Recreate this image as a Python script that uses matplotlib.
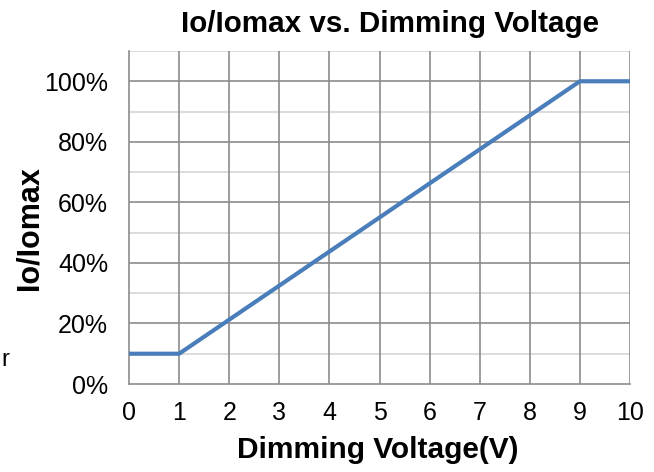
import matplotlib
matplotlib.use("Agg")
import matplotlib.pyplot as plt
from matplotlib.ticker import MultipleLocator, FuncFormatter

plt.rcParams['font.family'] = ['Liberation Sans', 'DejaVu Sans']

# Data
voltage = [0, 1, 9, 10]
ratio_pct = [10, 10, 100, 100]
x_ticks = list(range(0, 11))
y_ticks = [0, 20, 40, 60, 80, 100]
title = "Io/Iomax vs. Dimming Voltage"
xlabel = "Dimming Voltage(V)"
ylabel = "Io/Iomax"

W, H = 654, 472
fig = plt.figure(figsize=(W / 100, H / 100), dpi=100)
ax = fig.add_axes([129 / W, 1 - 384 / H, (630 - 129) / W, (384 - 51) / H])

major_c = '#8c8c8c'
minor_c = '#d6d6d6'

ax.set_xlim(0, 10)
ax.set_ylim(0, 110)
ax.set_xticks(x_ticks)
ax.set_yticks(y_ticks)
ax.yaxis.set_minor_locator(MultipleLocator(10))
ax.yaxis.set_major_formatter(FuncFormatter(lambda v, p: f"{int(v)}%"))

# grid
for yv in range(10, 111, 10):
    c = major_c if yv % 20 == 0 and yv <= 100 else minor_c
    ax.axhline(yv, color=c, lw=1.2, zorder=1)
for xv in x_ticks[1:]:
    ax.axvline(xv, color=major_c, lw=1.2, zorder=1)

for s in ['top', 'right']:
    ax.spines[s].set_visible(False)
for s in ['left', 'bottom']:
    ax.spines[s].set_color(major_c)
    ax.spines[s].set_linewidth(1.2)

ax.tick_params(axis='both', which='both', length=0, labelsize=18, colors='black')
ax.tick_params(axis='y', pad=15)
ax.tick_params(axis='x', pad=12)

ax.plot(voltage, ratio_pct, color='#4a7ebb', lw=3.0, zorder=3, solid_capstyle='butt')

fig.text(390 / W, 1 - 32 / H, title, ha='center', va='baseline', fontsize=21.3, fontweight='bold')
fig.text(378 / W, 1 - 458 / H, xlabel, ha='center', va='baseline', fontsize=21.5, fontweight='bold')
fig.text(29 / W, 1 - 228 / H, ylabel, ha='center', va='center', rotation=90, fontsize=22, fontweight='bold')
fig.text(1 / W, 1 - 366 / H, "r", ha='left', va='baseline', fontsize=17)

fig.savefig("out.png", dpi=100)
